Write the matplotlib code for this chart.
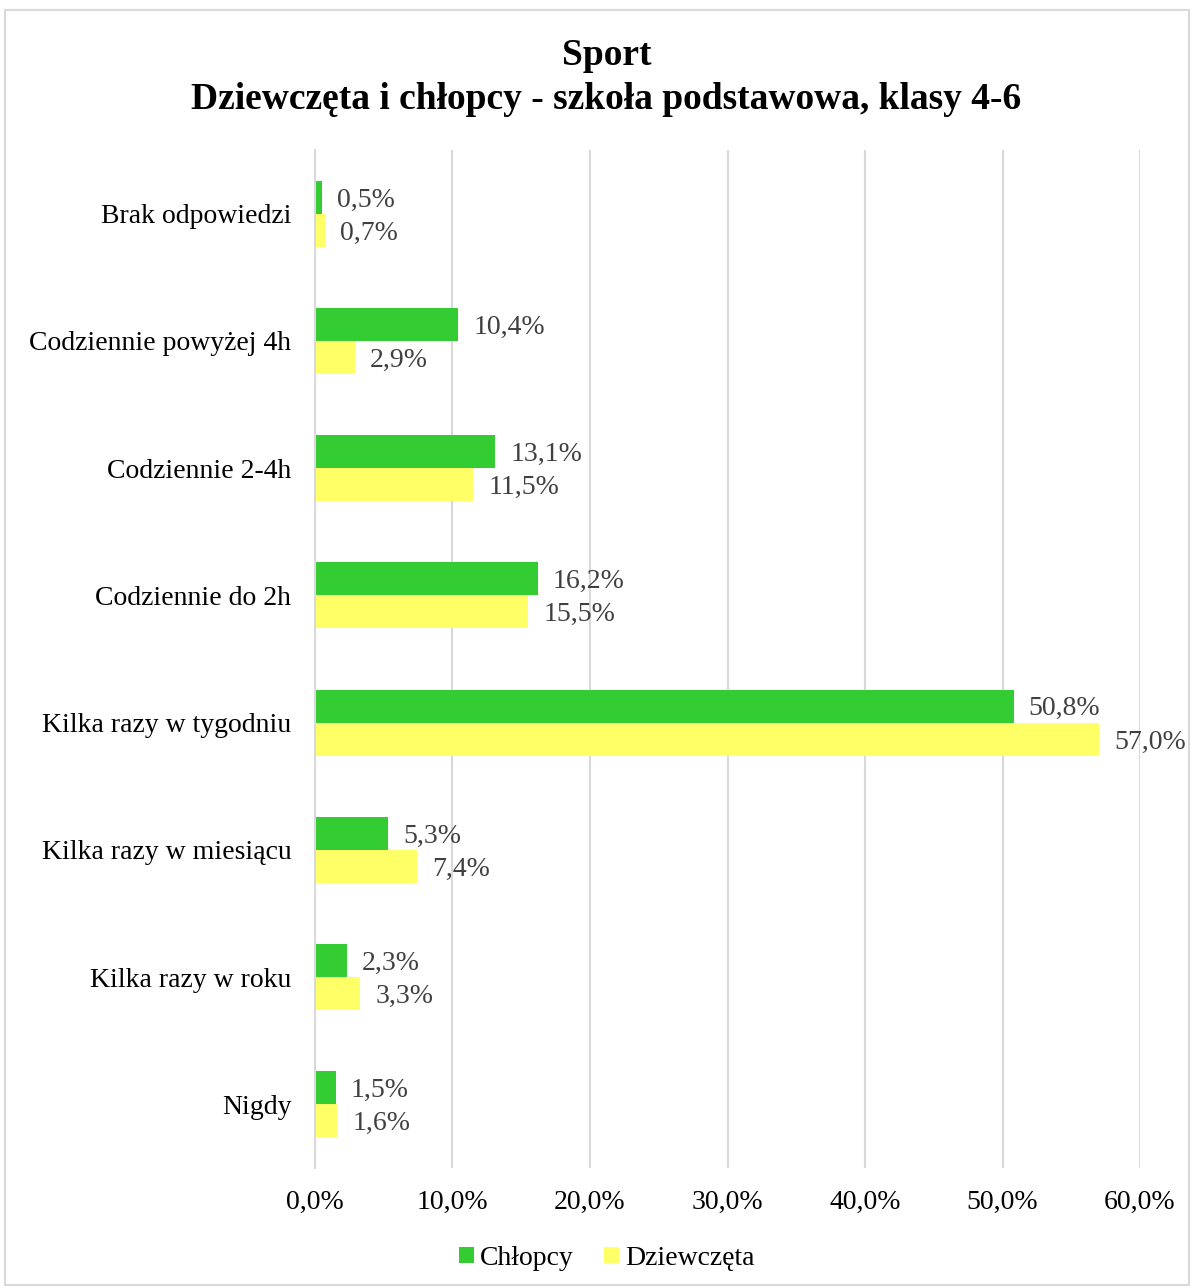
import numpy as np
import matplotlib.pyplot as plt
from matplotlib.ticker import FuncFormatter

categories = ['Brak odpowiedzi', 'Codziennie powyżej 4h', 'Codziennie 2-4h',
              'Codziennie do 2h', 'Kilka razy w tygodniu', 'Kilka razy w miesiącu',
              'Kilka razy w roku', 'Nigdy']
chlopcy = [0.5, 10.4, 13.1, 16.2, 50.8, 5.3, 2.3, 1.5]
dziewczeta = [0.7, 2.9, 11.5, 15.5, 57.0, 7.4, 3.3, 1.6]

plt.rcParams['font.family'] = ['Liberation Serif', 'DejaVu Serif']

fig = plt.figure(figsize=(11.94, 12.88), dpi=100)
ax = fig.add_axes([0.2638, 0.0932, 0.6910, 0.7903])

y = np.arange(len(categories))
h = 0.26
ax.barh(y - h / 2, chlopcy, height=h, color='#33CC33', label='Chłopcy')
ax.barh(y + h / 2, dziewczeta, height=h, color='#FFFF66', label='Dziewczęta')

def pl(v):
    return ('%.1f' % v).replace('.', ',') + '%'

# value labels next to bar ends
for off, vals in ((-h / 2, chlopcy), (h / 2, dziewczeta)):
    for yi, v in zip(y, vals):
        ax.annotate(pl(v), (v, yi + off), xytext=(11, -2), textcoords='offset points',
                    ha='left', va='center', fontsize=20, color='#404040')

ax.set_xlim(0, 60)
ax.set_ylim(len(categories) - 0.5, -0.5)
ax.set_xticks(np.arange(0, 61, 10))
ax.xaxis.set_major_formatter(FuncFormatter(lambda v, p: pl(v)))
ax.set_yticks(y)
ax.set_yticklabels(categories)
ax.tick_params(axis='both', length=0, labelsize=20, colors='black')
ax.tick_params(axis='y', pad=17)
ax.tick_params(axis='x', pad=16)
ax.grid(axis='x', color='#D9D9D9', linewidth=1.5)
ax.set_axisbelow(True)
for s in ['top', 'right', 'bottom']:
    ax.spines[s].set_visible(False)
ax.spines['left'].set_color('#D9D9D9')
ax.spines['left'].set_linewidth(1.5)

fig.text(0.508, 0.957, 'Sport', ha='center', va='center', fontsize=27, fontweight='bold')
fig.text(0.508, 0.923, 'Dziewczęta i chłopcy - szkoła podstawowa, klasy 4-6',
         ha='center', va='center', fontsize=27, fontweight='bold')

fig.legend(loc='center', bbox_to_anchor=(0.508, 0.023), ncol=2, frameon=False,
           fontsize=20, handlelength=0.55, handleheight=0.55, handletextpad=0.2,
           columnspacing=1.1)

fig.patches.append(plt.Rectangle((0.004, 0.002), 0.992, 0.99, transform=fig.transFigure,
                                 fill=False, edgecolor='#D9D9D9', linewidth=1.5))

fig.savefig('out.png', dpi=100)
